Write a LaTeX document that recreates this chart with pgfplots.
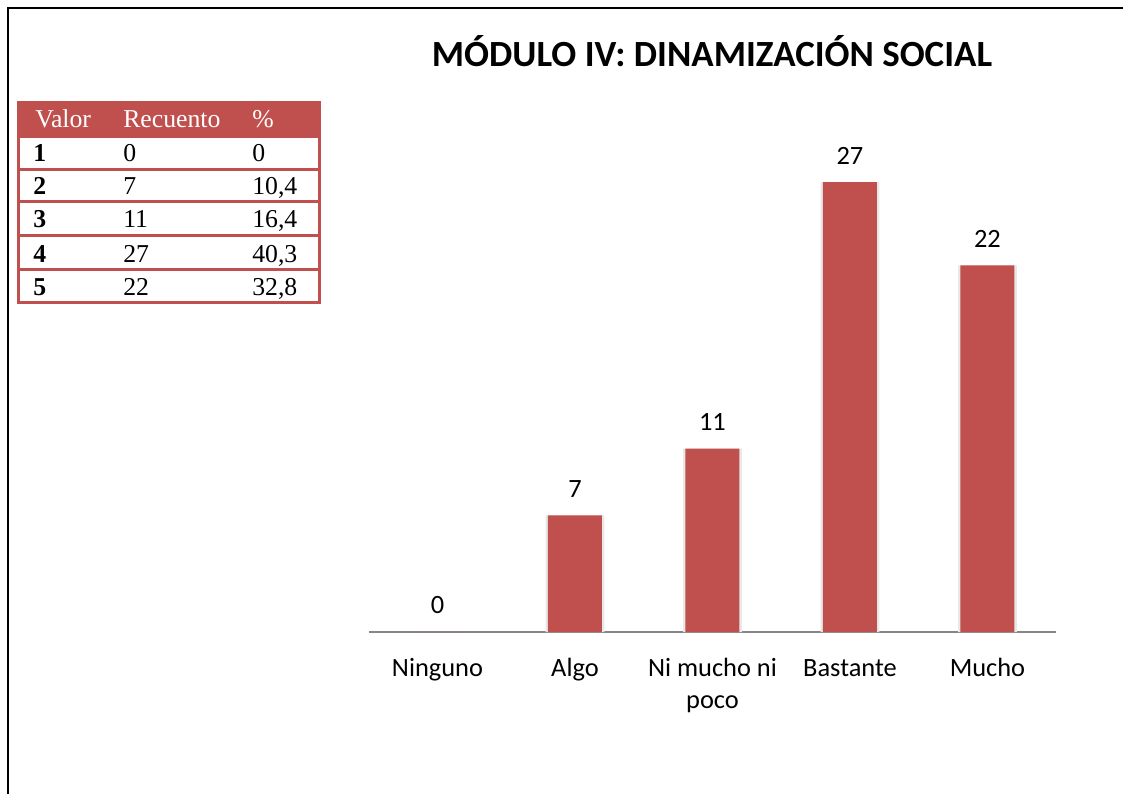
\documentclass[border=0pt]{standalone}
\usepackage{pgfplots}
\pgfplotsset{compat=1.18}
\usepackage{fontspec}
\setmainfont{Carlito}
\newfontfamily\tablefont{Liberation Serif}
\definecolor{barred}{HTML}{C0504D}
\definecolor{axgray}{HTML}{868686}
\begin{document}
\begin{tikzpicture}[x=0.75pt,y=0.75pt]
\useasboundingbox (0,0) rectangle (1123,794);
% frame
\draw[line width=1.5pt] (8,0) -- (8,786) -- (1125,786);
% title
\node[font=\fontsize{27.7}{33}\selectfont\bfseries, anchor=base] at (712,794-67) {MÓDULO IV: DINAMIZACIÓN SOCIAL};
% table
\fill[barred] (17,794-101) rectangle (321,794-137);
\begin{scope}[draw=barred, line width=2.25pt]
\draw (18.5,794-137) rectangle (319.5,794-302);
\draw (18.5,794-169.5) -- (319.5,794-169.5);
\draw (18.5,794-202) -- (319.5,794-202);
\draw (18.5,794-235.5) -- (319.5,794-235.5);
\draw (18.5,794-269) -- (319.5,794-269);
\end{scope}
\begin{scope}[every node/.style={anchor=base west, inner sep=0pt, font=\tablefont\fontsize{19.3}{22}\selectfont}]
\node[text=white] at (35,794-128) {Valor};
\node[text=white] at (123,794-128) {Recuento};
\node[text=white] at (252,794-128) {\%};
\node at (33,794-162) {\textbf{1}};
\node at (123,794-162) {0};
\node at (252,794-162) {0};
\node at (33,794-195) {\textbf{2}};
\node at (123,794-195) {7};
\node at (252,794-195) {10,4};
\node at (33,794-228) {\textbf{3}};
\node at (123,794-228) {11};
\node at (252,794-228) {16,4};
\node at (33,794-262) {\textbf{4}};
\node at (123,794-262) {27};
\node at (252,794-262) {40,3};
\node at (33,794-295) {\textbf{5}};
\node at (123,794-295) {22};
\node at (252,794-295) {32,8};
\end{scope}
% chart
\begin{axis}[
  at={(276.5625pt,121.5pt)}, anchor=south west,
  scale only axis, width=515.6pt, height=350pt,
  xmin=-0.5, xmax=4.5, ymin=0, ymax=28,
  axis x line=bottom, axis y line=none,
  axis line style={draw=axgray, line width=1.3pt, -},
  xtick={0,1,2,3,4},
  xticklabels={\strut Ninguno, \strut Algo, {\strut Ni mucho ni\\poco}, \strut Bastante, \strut Mucho},
  major tick length=0pt,
  xticklabel style={anchor=north, inner sep=0pt, yshift=-16pt, align=center,
    font=\fontsize{19.8}{24}\selectfont},
  /pgf/number format/assume math mode=true,
  ybar, bar shift=0pt,
  every node near coord/.style={anchor=south, inner sep=0pt, yshift=13.3pt,
    font=\fontsize{19.8}{24}\selectfont, text=black},
  clip=false,
]
\addplot[fill=black!9, draw=none, bar width=44pt, forget plot] coordinates {(1,7) (2,11) (3,27) (4,22)};
\addplot[fill=barred, draw=none, bar width=40.5pt, nodes near coords] coordinates {(0,0) (1,7) (2,11) (3,27) (4,22)};
\end{axis}
\end{tikzpicture}
\end{document}
